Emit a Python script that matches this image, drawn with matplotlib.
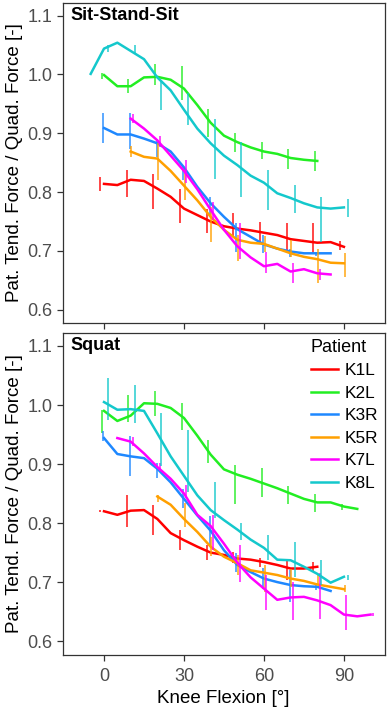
import matplotlib.pyplot as plt
import matplotlib.transforms as mtransforms
import numpy as np

plt.rcParams['font.family'] = ['Liberation Sans', 'DejaVu Sans']

patients = ["K1L", "K2L", "K3R", "K5R", "K7L", "K8L"]
colors = ["#FF0000", "#22EE22", "#1E88FF", "#FFA000", "#FF00FF", "#14C8CC"]
dodge = [-1.5, -0.9, -0.3, 0.3, 0.9, 1.5]

# ---- Sit-Stand-Sit: mean curves, one value every 5 deg from *_start
sss_start = [0, 0, 0, 10, 10, -5]
sss_K1L = [0.814, 0.812, 0.821, 0.819, 0.806, 0.792, 0.772, 0.761, 0.750, 0.742,
           0.738, 0.735, 0.731, 0.727, 0.720, 0.717, 0.714, 0.715, 0.707]
sss_K2L = [0.999, 0.980, 0.980, 0.995, 0.996, 0.991, 0.976, 0.948, 0.918, 0.896,
           0.885, 0.876, 0.869, 0.865, 0.858, 0.855, 0.853]
sss_K3R = [0.909, 0.898, 0.898, 0.891, 0.883, 0.869, 0.842, 0.809, 0.781, 0.758,
           0.737, 0.724, 0.711, 0.704, 0.699, 0.696, 0.696, 0.696]
sss_K5R = [0.869, 0.860, 0.857, 0.836, 0.811, 0.786, 0.758, 0.736, 0.719, 0.714,
           0.712, 0.704, 0.696, 0.690, 0.686, 0.680, 0.679]
sss_K7L = [0.925, 0.908, 0.888, 0.862, 0.836, 0.805, 0.770, 0.736, 0.708, 0.689,
           0.674, 0.678, 0.665, 0.669, 0.662, 0.660]
sss_K8L = [1.001, 1.044, 1.054, 1.040, 1.026, 0.995, 0.973, 0.940, 0.908, 0.883,
           0.862, 0.846, 0.828, 0.816, 0.798, 0.790, 0.781, 0.774, 0.772, 0.774]

# error bars every 10 deg from *_bar_start (low, high)
sss_bar_start = [0, 0, 0, 10, 10, 0]
sss_K1L_lo = [0.802, 0.792, 0.772, 0.747, 0.731, 0.724, 0.716, 0.702, 0.696, 0.702]
sss_K1L_hi = [0.826, 0.838, 0.831, 0.805, 0.772, 0.765, 0.750, 0.747, 0.747, 0.717]
sss_K2L_lo = [0.993, 0.969, 0.982, 0.957, 0.894, 0.869, 0.857, 0.840, 0.836]
sss_K2L_hi = [1.003, 0.992, 1.018, 1.014, 0.942, 0.901, 0.886, 0.874, 0.870]
sss_K3R_lo = [0.883, 0.873, 0.860, 0.820, 0.761, 0.699, 0.696, 0.690, 0.692]
sss_K3R_hi = [0.934, 0.935, 0.890, 0.843, 0.791, 0.747, 0.727, 0.704, 0.699]
sss_K5R_lo = [0.860, 0.821, 0.787, 0.716, 0.683, 0.698, 0.690, 0.645, 0.656]
sss_K5R_hi = [0.878, 0.883, 0.838, 0.775, 0.727, 0.726, 0.719, 0.704, 0.696]
sss_K7L_lo = [0.918, 0.877, 0.815, 0.753, 0.687, 0.662, 0.645, 0.651]
sss_K7L_hi = [0.932, 0.895, 0.855, 0.784, 0.747, 0.699, 0.679, 0.670]
sss_K8L_lo = [1.039, 1.036, 0.940, 0.914, 0.823, 0.792, 0.770, 0.764, 0.716, 0.758]
sss_K8L_hi = [1.050, 1.050, 0.991, 0.968, 0.925, 0.886, 0.838, 0.812, 0.792, 0.789]

# ---- Squat
sq_start = [0, 0, 0, 20, 5, 0]
sq_K1L = [0.820, 0.814, 0.821, 0.822, 0.807, 0.783, 0.771, 0.760, 0.750, 0.746,
          0.740, 0.738, 0.734, 0.729, 0.723, 0.723, 0.726]
sq_K2L = [0.990, 0.973, 0.982, 1.003, 1.002, 0.995, 0.978, 0.948, 0.916, 0.891,
          0.882, 0.875, 0.867, 0.859, 0.850, 0.841, 0.835, 0.835, 0.828, 0.824]
sq_K3R = [0.944, 0.917, 0.913, 0.910, 0.892, 0.869, 0.841, 0.813, 0.787, 0.754,
          0.729, 0.717, 0.706, 0.700, 0.695, 0.693, 0.692, 0.685]
sq_K5R = [0.845, 0.831, 0.807, 0.785, 0.760, 0.743, 0.732, 0.720, 0.716, 0.712,
          0.706, 0.702, 0.696, 0.692, 0.688]
sq_K7L = [0.944, 0.938, 0.918, 0.895, 0.875, 0.850, 0.814, 0.795, 0.765, 0.733,
          0.708, 0.689, 0.670, 0.674, 0.675, 0.669, 0.661, 0.645, 0.642, 0.645]
sq_K8L = [1.005, 0.992, 0.993, 0.990, 0.952, 0.913, 0.880, 0.847, 0.822, 0.805,
          0.789, 0.772, 0.758, 0.738, 0.737, 0.726, 0.714, 0.699, 0.709]

sq_bar_start = [0, 0, 0, 20, 10, 0]
sq_K1L_lo = [0.818, 0.794, 0.780, 0.754, 0.737, 0.732, 0.726, 0.703, 0.718]
sq_K1L_hi = [0.822, 0.848, 0.831, 0.788, 0.763, 0.751, 0.740, 0.737, 0.734]
sq_K2L_lo = [0.952, 0.972, 0.981, 0.958, 0.901, 0.833, 0.845, 0.832, 0.819, 0.822]
sq_K2L_hi = [0.992, 1.017, 1.023, 1.003, 0.941, 0.898, 0.893, 0.862, 0.850, 0.832]
sq_K3R_lo = [0.939, 0.879, 0.876, 0.825, 0.762, 0.717, 0.688, 0.666, 0.686]
sq_K3R_hi = [0.956, 0.947, 0.901, 0.858, 0.812, 0.749, 0.724, 0.720, 0.698]
sq_K5R_lo = [0.836, 0.794, 0.745, 0.712, 0.683, 0.692, 0.695, 0.683]
sq_K5R_hi = [0.848, 0.834, 0.776, 0.746, 0.729, 0.723, 0.712, 0.695]
sq_K7L_lo = [0.930, 0.888, 0.842, 0.754, 0.700, 0.652, 0.635, 0.638, 0.618, 0.642]
sq_K7L_hi = [0.946, 0.902, 0.865, 0.814, 0.763, 0.712, 0.700, 0.715, 0.678, 0.648]
sq_K8L_lo = [0.975, 0.969, 0.896, 0.853, 0.808, 0.771, 0.737, 0.709, 0.695, 0.703]
sq_K8L_hi = [1.046, 1.034, 0.986, 0.958, 0.870, 0.800, 0.780, 0.768, 0.737, 0.712]

panels = [
    ("Sit-Stand-Sit", sss_start, [sss_K1L, sss_K2L, sss_K3R, sss_K5R, sss_K7L, sss_K8L],
     sss_bar_start,
     [sss_K1L_lo, sss_K2L_lo, sss_K3R_lo, sss_K5R_lo, sss_K7L_lo, sss_K8L_lo],
     [sss_K1L_hi, sss_K2L_hi, sss_K3R_hi, sss_K5R_hi, sss_K7L_hi, sss_K8L_hi]),
    ("Squat", sq_start, [sq_K1L, sq_K2L, sq_K3R, sq_K5R, sq_K7L, sq_K8L],
     sq_bar_start,
     [sq_K1L_lo, sq_K2L_lo, sq_K3R_lo, sq_K5R_lo, sq_K7L_lo, sq_K8L_lo],
     [sq_K1L_hi, sq_K2L_hi, sq_K3R_hi, sq_K5R_hi, sq_K7L_hi, sq_K8L_hi]),
]

W, H = 387, 708
fig = plt.figure(figsize=(W / 100, H / 100), dpi=100)
boxes = [(62.7, 2.7, 384.7, 323.3), (62.7, 333.0, 384.7, 654.7)]

axes = []
for (x0, y0, x1, y1), (title, starts, lines, bstarts, los, his) in zip(boxes, panels):
    ax = fig.add_axes([x0 / W, 1 - y1 / H, (x1 - x0) / W, (y1 - y0) / H])
    for i, name in enumerate(patients):
        xs = starts[i] + 5 * np.arange(len(lines[i]))
        bx = bstarts[i] + 10 * np.arange(len(los[i])) + dodge[i]
        ax.vlines(bx, los[i], his[i], color=colors[i], lw=1.2, alpha=0.85)
        ax.plot(xs, lines[i], color=colors[i], lw=1.8, label=name)
    ax.set_xlim(-15.5, 105.3)
    ax.set_ylim(0.577, 1.122)
    ax.set_xticks([0, 30, 60, 90])
    ax.set_yticks([0.6, 0.7, 0.8, 0.9, 1.0, 1.1])
    ax.set_yticklabels(["0.6", "0.7", "0.8", "0.9", "1.0", "1.1"])
    for s in ax.spines.values():
        s.set_color("#333333")
        s.set_linewidth(0.9)
    ax.tick_params(colors="#333333", labelcolor="#4D4D4D", labelsize=13,
                   length=4, width=0.9)
    ax.tick_params(axis="x", pad=5.5)
    ax.set_ylabel("Pat. Tend. Force / Quad. Force [-]", fontsize=13.5, labelpad=3)
    trans = mtransforms.blended_transform_factory(ax.transAxes, ax.transData)
    ax.text(0.025, 1.1, title, transform=trans, fontsize=13, fontweight="bold",
            va="center", ha="left")
    axes.append(ax)

axes[0].tick_params(labelbottom=False)
axes[1].set_xlabel("Knee Flexion [°]", fontsize=13.5, labelpad=4)

leg = axes[1].legend(title="Patient", loc="upper left", bbox_to_anchor=(0.77, 0.982),
                     frameon=False, fontsize=12.4, title_fontsize=13,
                     handlelength=1.6, handletextpad=0.39, labelspacing=0.43,
                     borderpad=0, borderaxespad=0, alignment="left")

fig.savefig("out.png", dpi=100)
plt.close()
